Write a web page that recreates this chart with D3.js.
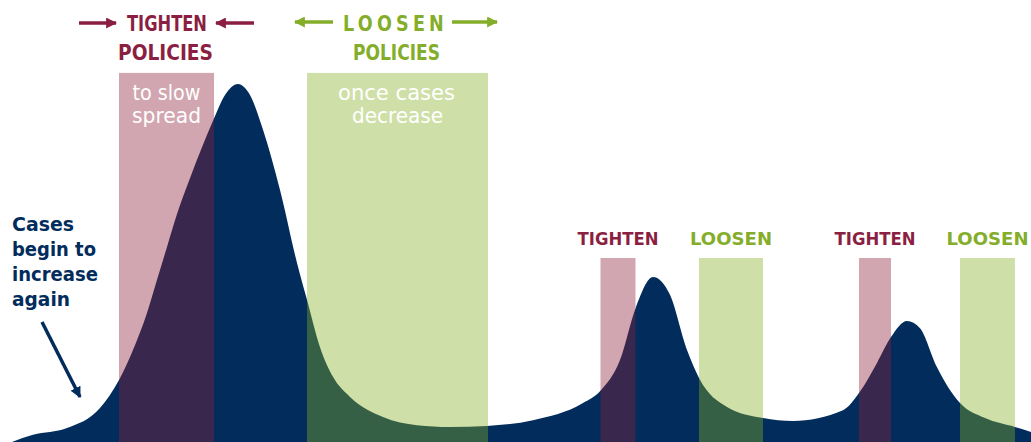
<!DOCTYPE html>
<html>
<head>
<meta charset="utf-8">
<script src="https://cdn.jsdelivr.net/npm/d3@7"></script>
<style>
  body { margin: 0; background: #fff; }
  svg { display: block; }
  text { font-family: "DejaVu Sans", Lato, sans-serif; }
</style>
</head>
<body>
<div id="vis"></div>
<script>
// epidemic curve (peak = 100)
var days  = [1.2, 3.3, 6.7, 10, 11.9, 13.3, 14.7, 15.7, 16.7, 17.7, 19.0, 20.3, 21.3, 22.5, 23.8, 25, 26.3, 28, 29.7, 30.7, 32, 33.3, 35, 38.3, 41.7, 45, 48.7, 53.3, 58.3, 60, 62, 63.6, 65.3, 67, 68.7, 69.9, 72.7, 76.3, 79.3, 84.3, 85.9, 87.7, 89.1, 90.7, 92, 93.7, 96, 98.5, 101.5, 103.1];
var cases = [0, 2.0, 3.9, 9.5, 17.3, 25.7, 36.0, 45.3, 54.5, 63.7, 73.7, 83.0, 89.7, 96.9, 100, 96.9, 87.2, 70.4, 50.0, 39.7, 26.5, 18.2, 12.6, 7.0, 4.7, 4.2, 4.5, 6.1, 10.9, 14.2, 22.9, 37.7, 46.1, 41.1, 25.7, 17.9, 9.8, 6.7, 5.9, 8.9, 13.7, 22.1, 29.3, 33.8, 31.8, 20.9, 10.9, 6.7, 4.2, 2.8];

// policy windows
var tightenStart = [11.9, 60.05, 85.9];
var tightenEnd   = [21.4, 63.55, 89.1];
var loosenStart  = [30.7, 69.9, 96.0];
var loosenEnd    = [48.8, 76.3, 101.5];
var windowTop    = [103.1, 51.4, 51.4];

var w = 1031, h = 442;
var navy = "#012c5c", maroon = "#8b1f42", green = "#84ae2a";

var x = d3.scaleLinear().domain([0, 103.1]).range([0, w]);
var y = d3.scaleLinear().domain([0, 100]).range([h, 84]);

var svg = d3.select("#vis").append("svg")
  .attr("width", w)
  .attr("height", h);

var defs = svg.append("defs");
function arrowHead(id, col) {
  defs.append("marker")
    .attr("id", id)
    .attr("markerUnits", "userSpaceOnUse")
    .attr("viewBox", "0 0 10 10")
    .attr("refX", 9).attr("refY", 5)
    .attr("markerWidth", 11).attr("markerHeight", 11)
    .attr("orient", "auto")
    .append("path")
      .attr("d", "M0,0L10,5L0,10Z")
      .attr("fill", col);
}
arrowHead("ahMaroon", maroon);
arrowHead("ahGreen", green);
arrowHead("ahNavy", navy);

var pts = days.map(function(d, i) { return {day: d, cases: cases[i]}; });

var area = d3.area()
  .x(function(d) { return x(d.day); })
  .y0(y(0))
  .y1(function(d) { return y(d.cases); })
  .curve(d3.curveMonotoneX);

svg.append("path")
  .datum(pts)
  .attr("d", area)
  .attr("fill", navy);

var tighten = tightenStart.map(function(s, i) { return {s: s, e: tightenEnd[i], top: windowTop[i]}; });
var loosen  = loosenStart.map(function(s, i) { return {s: s, e: loosenEnd[i], top: windowTop[i]}; });

function drawBands(data, col) {
  svg.selectAll(null)
    .data(data)
    .enter().append("rect")
      .attr("x", function(d) { return x(d.s); })
      .attr("width", function(d) { return x(d.e) - x(d.s); })
      .attr("y", function(d) { return y(d.top); })
      .attr("height", function(d) { return y(0) - y(d.top); })
      .attr("fill", col)
      .attr("fill-opacity", 0.4);
}
drawBands(tighten, "rgb(143,33,58)");
drawBands(loosen, "rgb(135,175,38)");

function mid(d) { return (x(d.s) + x(d.e)) / 2; }

// text helper, fitted to the width seen in the picture
function label(cx, by, str, size, weight, col, len) {
  return svg.append("text")
    .attr("x", cx).attr("y", by)
    .attr("text-anchor", "middle")
    .attr("font-size", size).attr("font-weight", weight)
    .attr("fill", col)
    .attr("textLength", len).attr("lengthAdjust", "spacingAndGlyphs")
    .text(str);
}

// big headers over the first wave
var t0 = tighten[0], l0 = loosen[0];
label(167, 31, "TIGHTEN", 21, 700, maroon, 80);
label(165.5, 60, "POLICIES", 21, 700, maroon, 95);
label(395.5, 31, "LOOSEN", 21, 700, green, 105).attr("letter-spacing", 5);
label(396.5, 60, "POLICIES", 21, 700, green, 87);

// header arrows
function arrow(x1, y1, x2, y2, id, col) {
  svg.append("line")
    .attr("x1", x1).attr("y1", y1).attr("x2", x2).attr("y2", y2)
    .attr("stroke", col).attr("stroke-width", 3.5)
    .attr("marker-end", "url(#" + id + ")");
}
arrow(79, 23, 116, 23, "ahMaroon", maroon);
arrow(254, 23, 216, 23, "ahMaroon", maroon);
arrow(333, 22, 295, 22, "ahGreen", green);
arrow(452, 22, 497, 22, "ahGreen", green);

// notes inside the first bands
label(mid(t0), 100, "to slow", 21, 400, "#fff", 68);
label(mid(t0), 123, "spread", 21, 400, "#fff", 69);
label(396.5, 100, "once cases", 21, 400, "#fff", 117);
label(397.5, 123, "decrease", 21, 400, "#fff", 91);

// small labels over later waves
tighten.slice(1).forEach(function(d) { label(mid(d), 245, "TIGHTEN", 17, 700, maroon, 81); });
loosen.slice(1).forEach(function(d) { label(mid(d), 245, "LOOSEN", 17, 700, green, 82); });

// left note
var note = ["Cases", "begin to", "increase", "again"];
var noteLen = [62, 84, 86, 58];
svg.selectAll(".note")
  .data(note)
  .enter().append("text")
    .attr("class", "note")
    .attr("x", 12)
    .attr("y", function(d, i) { return 231 + i * 25; })
    .attr("font-weight", 700).attr("font-size", 19)
    .attr("textLength", function(d, i) { return noteLen[i]; })
    .attr("lengthAdjust", "spacingAndGlyphs")
    .attr("fill", navy).text(function(d) { return d; });
arrow(42, 322, 80, 397, "ahNavy", navy);
</script>
</body>
</html>
